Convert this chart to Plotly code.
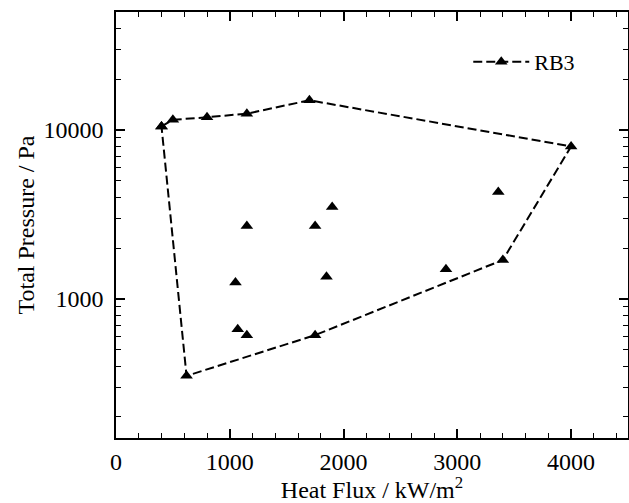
import plotly.graph_objects as go

# Boundary (envelope) points of RB3, in drawing order (closed loop)
hull_heat_flux = [400, 500, 800, 1150, 1700, 4000, 3400, 1750, 620, 400]
hull_pressure = [10500, 11500, 11900, 12500, 15000, 8000, 1700, 610, 350, 10500]

# Interior test points of RB3
inner_heat_flux = [1900, 1150, 1750, 1050, 1850, 1070, 1150, 3360, 2900]
inner_pressure = [3500, 2700, 2700, 1250, 1350, 660, 610, 4300, 1500]

series_name = "RB3"
x_title = "Heat Flux / kW/m<sup>2</sup>"
y_title = "Total Pressure / Pa"
x_tickvals = [0, 1000, 2000, 3000, 4000]
y_tickvals = [1000, 10000]
y_ticktext = ["1000", "10000"]
y_minor_vals = [m * d for d in (100, 1000, 10000) for m in range(2, 10) if 150 <= m * d <= 50000]

FONT = "Liberation Serif"

fig = go.Figure()
fig.add_trace(go.Scatter(
    x=hull_heat_flux, y=hull_pressure, mode="lines+markers", name=series_name,
    line=dict(color="black", width=2, dash="9px,4px"),
    marker=dict(symbol="triangle-up", size=11, color="black"),
    legendgroup="rb3",
))
fig.add_trace(go.Scatter(
    x=inner_heat_flux, y=inner_pressure, mode="markers", name=series_name,
    marker=dict(symbol="triangle-up", size=11, color="black"),
    legendgroup="rb3", showlegend=False,
))

axis_common = dict(
    showline=True, linecolor="black", linewidth=1.5, mirror="ticks",
    ticks="inside", ticklen=9, tickwidth=1.5, tickcolor="black",
    showgrid=False, zeroline=False,
    tickfont=dict(family=FONT, size=24, color="black"),
)

fig.update_xaxes(
    **axis_common, range=[0, 4500], tickvals=x_tickvals,
    ticklabelstandoff=1,
    minor=dict(dtick=200, tick0=0, ticks="inside", ticklen=5, tickwidth=1.2, tickcolor="black"),
    title=dict(text=x_title, font=dict(family=FONT, size=24, color="black"), standoff=6),
)
fig.update_yaxes(
    **axis_common, type="log", range=[2.1761, 4.699],
    tickvals=y_tickvals, ticktext=y_ticktext, ticklabelstandoff=6,
    minor=dict(tickvals=y_minor_vals, ticks="inside", ticklen=5, tickwidth=1.2, tickcolor="black"),
    title=dict(text=y_title, font=dict(family=FONT, size=24, color="black"), standoff=2),
)

fig.update_layout(
    width=629, height=503,
    margin=dict(l=116, r=1, t=12, b=65, autoexpand=False),
    plot_bgcolor="white", paper_bgcolor="white",
    font=dict(family=FONT, color="black"),
    showlegend=True,
    legend=dict(x=0.688, y=0.883, xanchor="left", yanchor="middle", itemwidth=56,
                bgcolor="rgba(0,0,0,0)", font=dict(family=FONT, size=22, color="black")),
)

fig.write_html(
    "out.html",
    config={"displayModeBar": False},
    post_script="document.body.style.margin='0';document.body.style.overflow='hidden';",
)
